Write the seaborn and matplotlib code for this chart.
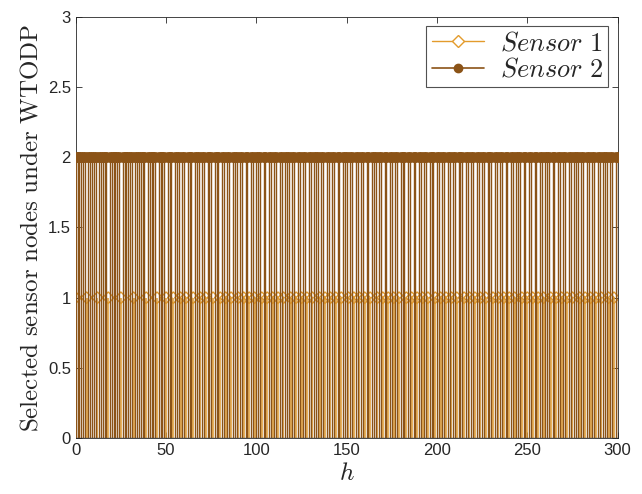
import numpy as np
import matplotlib
matplotlib.use("Agg")
import matplotlib.pyplot as plt
import seaborn as sns
from matplotlib.lines import Line2D

# time steps where each sensor is selected
sensor1_steps = [0, 6, 12, 18, 25, 32, 39, 45, 50, 54, 58, 61, 65, 69, 72, 76, 80,
                 83, 86, 90, 93, 96, 99, 103, 106, 109, 112, 115, 119, 122, 125, 128,
                 131, 135, 138, 141, 144, 147, 151, 154, 157, 160, 163, 167, 170, 173,
                 176, 179, 183, 186, 189, 192, 195, 199, 202, 205, 208, 211, 215, 218,
                 221, 224, 227, 231, 234, 237, 240, 243, 247, 250, 253, 256, 259, 263,
                 266, 269, 272, 275, 279, 282, 285, 288, 291, 295, 298]
all_steps = list(range(0, 301))
# one sensor transmits at every step; sensor 2 takes the remaining ones
sensor2_steps = [h for h in all_steps if h not in sensor1_steps or h == 0]
sensor1_value = 1
sensor2_value = 2

c1 = '#E39B2C'
c2 = '#8B5317'

sns.set_style('ticks')
plt.rcParams['font.family'] = ['Liberation Sans', 'DejaVu Sans']
plt.rcParams['mathtext.fontset'] = 'cm'

fig, ax = plt.subplots(figsize=(6.42, 4.94), dpi=100)
fig.subplots_adjust(left=0.118, right=0.962, top=0.966, bottom=0.113)

y1 = [sensor1_value] * len(sensor1_steps)
y2 = [sensor2_value] * len(sensor2_steps)

ax.vlines(sensor1_steps, 0, y1, color=c1, linewidth=1.1, zorder=2)
sns.scatterplot(x=sensor1_steps, y=y1, ax=ax, marker='D', s=34,
                facecolor='none', edgecolor=c1, linewidth=1.0, zorder=3)
ax.vlines(sensor2_steps, 0, y2, color=c2, linewidth=1.0, zorder=4)
sns.scatterplot(x=sensor2_steps, y=y2, ax=ax, marker='o', s=52,
                color=c2, edgecolor=c2, linewidth=0.5, zorder=5)
ax.axhline(0, color='#4a4a4a', linewidth=1.0, zorder=6)

ax.set_xlim(0, 300)
ax.set_ylim(0, 3)
ax.set_xticks(np.arange(0, 301, 50))
ax.set_yticks(np.arange(0, 3.01, 0.5))
ax.set_yticklabels(['0', '0.5', '1', '1.5', '2', '2.5', '3'])
ax.tick_params(direction='in', length=4, width=0.6, labelsize=12, colors='#262626',
               top=True, right=True)
for sp in ax.spines.values():
    sp.set_visible(True)
    sp.set_color('#262626')
    sp.set_linewidth(0.6)

ax.set_xlabel(r'$h$', fontsize=18, labelpad=2)
ax.set_ylabel(r'$\mathrm{Selected\ sensor\ nodes\ under\ WTODP}$', fontsize=18, labelpad=4)

handles = [
    Line2D([0, 1], [0, 0], color=c1, lw=1.0, marker='D', markersize=6,
           markerfacecolor='white', markeredgecolor=c1, markevery=[1]),
    Line2D([0, 1], [0, 0], color=c2, lw=1.2, marker='o', markersize=6,
           markerfacecolor=c2, markeredgecolor=c2, markevery=[1]),
]
leg = ax.legend(handles, [r'$Sensor\ 1$', r'$Sensor\ 2$'], loc='upper right',
                fontsize=19, frameon=True, fancybox=False, handlelength=2.0,
                borderaxespad=0.35, labelspacing=0.1, borderpad=0.2, handletextpad=0.6)
leg.get_frame().set_edgecolor('#262626')
leg.get_frame().set_linewidth(0.8)

fig.savefig('out.png', dpi=100)
